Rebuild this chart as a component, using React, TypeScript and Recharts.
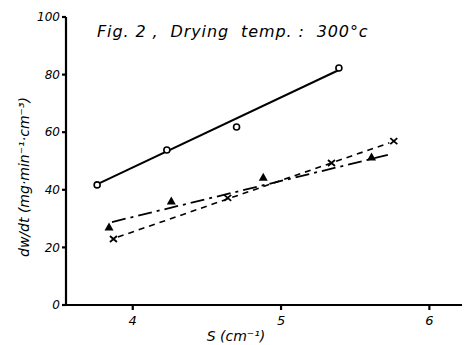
import { Label, Scatter, ScatterChart, XAxis, YAxis } from "recharts";

const sTicks = [4, 5, 6];
const rateTicks = [0, 20, 40, 60, 80, 100];

// measured points
const circleS = [3.76, 4.23, 4.7, 5.39];
const circleRate = [41.7, 53.8, 61.8, 82.3];
const triangleS = [3.84, 4.26, 4.88, 5.61];
const triangleRate = [27.1, 36.1, 44.4, 51.4];
const crossS = [3.87, 4.64, 5.34, 5.76];
const crossRate = [22.9, 37.2, 49.3, 56.9];

// hand-drawn fit lines (end points)
const circleFitS = [3.78, 5.39];
const circleFitRate = [42.4, 81.6];
const triangleFitS = [3.86, 5.72];
const triangleFitRate = [28.8, 52.1];
const crossFitS = [3.9, 5.73];
const crossFitRate = [23.6, 56.3];

const zip = (s: number[], r: number[]) => s.map((v, i) => ({ s: v, rate: r[i] }));

const ink = "#000";
const hand = "'DejaVu Sans', sans-serif";

function CircleMark({ cx, cy }: any) {
  return <circle cx={cx} cy={cy} r={3} fill="#fff" stroke={ink} strokeWidth={1.6} />;
}

function TriangleMark({ cx, cy }: any) {
  return <path d={`M${cx},${cy - 4.5} L${cx + 4.5},${cy + 3.5} L${cx - 4.5},${cy + 3.5} Z`} fill={ink} />;
}

function CrossMark({ cx, cy }: any) {
  return (
    <path
      d={`M${cx - 3.5},${cy - 3} L${cx + 3.5},${cy + 3} M${cx + 3.5},${cy - 3} L${cx - 3.5},${cy + 3}`}
      stroke={ink}
      strokeWidth={1.8}
    />
  );
}

const noDot = () => <g />;

function YTitle({ viewBox }: any) {
  const x = viewBox.x + 25;
  const y = viewBox.y + viewBox.height / 2 + 16;
  return (
    <text x={x} y={y} transform={`rotate(-90, ${x}, ${y})`} textAnchor="middle" dominantBaseline="middle" fill={ink} fontFamily={hand} fontStyle="italic" fontSize={14}>
      dw/dt (mg·min⁻¹·cm⁻³)
    </text>
  );
}

function XTitle({ viewBox }: any) {
  const x = viewBox.x + viewBox.width / 2 - 28;
  return (
    <text x={x} y={337} textAnchor="middle" dominantBaseline="middle" fill={ink} fontFamily={hand} fontStyle="italic" fontSize={14}>
      S (cm⁻¹)
    </text>
  );
}

const tickStyle = { fill: ink, fontFamily: hand, fontStyle: "italic", fontSize: 12 };

export default function App() {
  return (
    <div style={{ position: "absolute", left: 0, top: 0, width: 469, height: 345, background: "#fff" }}>
      <div
        style={{
          position: "absolute",
          left: 97,
          top: 22,
          fontFamily: hand,
          fontStyle: "italic",
          fontSize: 16,
          color: ink,
          whiteSpace: "pre",
          letterSpacing: 0.9,
        }}
      >
        {"Fig. 2 ,  Drying  temp. :  300°c"}
      </div>
      <ScatterChart width={469} height={345} margin={{ top: 17, right: 7, bottom: 0, left: 0 }}>
        <XAxis
          type="number"
          dataKey="s"
          domain={[3.55, 6.22]}
          ticks={sTicks}
          height={40}
          stroke={ink}
          strokeWidth={2.2}
          tickSize={5}
          tick={{ ...tickStyle, fontSize: 13, dy: 4 }}
        >
          <Label content={<XTitle />} />
        </XAxis>
        <YAxis
          type="number"
          dataKey="rate"
          domain={[0, 100]}
          ticks={rateTicks}
          width={66}
          stroke={ink}
          strokeWidth={2.2}
          tickSize={4}
          tick={tickStyle}
        >
          <Label content={<YTitle />} />
        </YAxis>
        <Scatter data={zip(circleFitS, circleFitRate)} line={{ stroke: ink, strokeWidth: 2 }} shape={noDot} isAnimationActive={false} />
        <Scatter
          data={zip(triangleFitS, triangleFitRate)}
          line={{ stroke: ink, strokeWidth: 1.8, strokeDasharray: "14 5 3 5" }}
          shape={noDot}
          isAnimationActive={false}
        />
        <Scatter
          data={zip(crossFitS, crossFitRate)}
          line={{ stroke: ink, strokeWidth: 1.6, strokeDasharray: "6 5" }}
          shape={noDot}
          isAnimationActive={false}
        />
        <Scatter data={zip(circleS, circleRate)} shape={CircleMark} isAnimationActive={false} />
        <Scatter data={zip(triangleS, triangleRate)} shape={TriangleMark} isAnimationActive={false} />
        <Scatter data={zip(crossS, crossRate)} shape={CrossMark} isAnimationActive={false} />
      </ScatterChart>
    </div>
  );
}
